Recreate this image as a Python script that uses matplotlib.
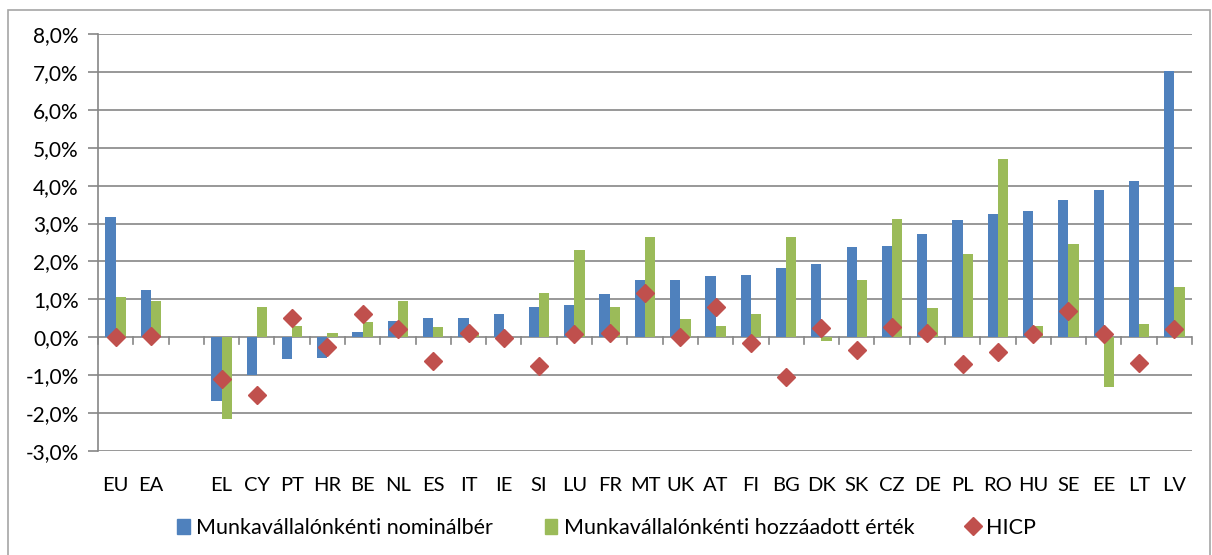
import numpy as np
import matplotlib
matplotlib.use("Agg")
import matplotlib.pyplot as plt
from matplotlib.lines import Line2D
from matplotlib.patches import Patch, Rectangle

categories = ["EU", "EA", "", "EL", "CY", "PT", "HR", "BE", "NL", "ES", "IT", "IE",
              "SI", "LU", "FR", "MT", "UK", "AT", "FI", "BG", "DK", "SK", "CZ",
              "DE", "PL", "RO", "HU", "SE", "EE", "LT", "LV"]
nominal_wage = [3.18, 1.24, np.nan, -1.67, -1.00, -0.56, -0.54, 0.13, 0.44, 0.50, 0.52, 0.62,
                0.79, 0.84, 1.14, 1.50, 1.51, 1.62, 1.64, 1.84, 1.93, 2.37, 2.40,
                2.73, 3.09, 3.24, 3.32, 3.61, 3.89, 4.12, 7.03]
value_added = [1.06, 0.97, np.nan, -2.15, 0.79, 0.29, 0.10, 0.39, 0.97, 0.28, 0.11, 0.0,
               1.16, 2.30, 0.79, 2.64, 0.48, 0.30, 0.61, 2.64, -0.09, 1.50, 3.11,
               0.77, 2.19, 4.69, 0.30, 2.47, -1.32, 0.36, 1.33]
hicp = [0.02, 0.04, np.nan, -1.10, -1.53, 0.50, -0.26, 0.62, 0.22, -0.62, 0.12, -0.03,
        -0.75, 0.08, 0.10, 1.17, 0.02, 0.81, -0.15, -1.06, 0.24, -0.33, 0.26,
        0.12, -0.71, -0.40, 0.08, 0.70, 0.08, -0.67, 0.22]
series_names = ["Munkavállalónkénti nominálbér", "Munkavállalónkénti hozzáadott érték", "HICP"]
yticks = [-3, -2, -1, 0, 1, 2, 3, 4, 5, 6, 7, 8]

BLUE = "#4F81BD"
GREEN = "#9BBB59"
RED = "#C0504D"
GRID = "#868686"

plt.rcParams['font.family'] = ['Lato', 'DejaVu Sans']

fig = plt.figure(figsize=(12.12, 5.55), dpi=100)
ax = fig.add_axes([98/1212, 1-451/555, (1192-98)/1212, (451-34)/555])

x = np.arange(len(categories))
w = 0.29
ax.bar(x - w/2, nominal_wage, width=w, color=BLUE, zorder=3)
ax.bar(x + w/2, value_added, width=w, color=GREEN, zorder=3)
ax.plot(x, hicp, linestyle="none", marker="D", markersize=9.5, color=RED, zorder=4)

ax.set_xlim(-0.5, len(categories) - 0.5)
ax.set_ylim(-3, 8)
ax.set_yticks(yticks)
ax.set_yticklabels([f"{v:.1f}%".replace(".", ",") for v in yticks], fontsize=15)
for v in yticks:
    ax.axhline(v, color=GRID, linewidth=1.2, zorder=1)

ax.set_xticks(x)
ax.set_xticklabels(categories, fontsize=14.5)
ax.tick_params(axis="x", length=0, pad=19)
ax.tick_params(axis="y", length=7, color=GRID, width=1.2, pad=7)

# tick marks on the zero axis at category boundaries
for b in np.arange(-0.5, len(categories), 1.0):
    ax.plot([b, b], [0, -0.19], color=GRID, linewidth=1.2, zorder=2, clip_on=False)

for s in ["top", "right", "bottom"]:
    ax.spines[s].set_visible(False)
ax.spines["left"].set_color(GRID)
ax.spines["left"].set_linewidth(1.2)

handles = [Patch(color=BLUE), Patch(color=GREEN),
           Line2D([], [], linestyle="none", marker="D", markersize=9, color=RED)]
fig.legend(handles, series_names, loc="center", bbox_to_anchor=(0.5, 1-528/555),
           ncol=3, frameon=False, fontsize=15.5, handlelength=0.6, handleheight=0.7,
           handletextpad=0.3, columnspacing=2.4)

fig.patches.append(Rectangle((8/1212, -0.05), (1210-8)/1212, 1.05 - 10/555,
                             transform=fig.transFigure, fill=False,
                             edgecolor="#A6A6A6", linewidth=1.2))

fig.savefig("out.png", dpi=100)
